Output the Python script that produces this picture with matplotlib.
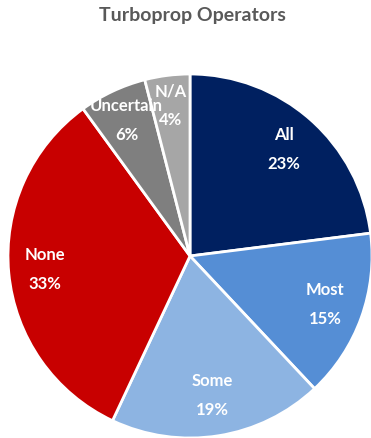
import numpy as np
import matplotlib
matplotlib.use("Agg")
import matplotlib.pyplot as plt

categories = ["All", "Most", "Some", "None", "Uncertain", "N/A"]
values = [23, 15, 19, 33, 6, 4]
colors = ["#002060", "#558ED5", "#8DB4E2", "#C80000", "#7F7F7F", "#A6A6A6"]
title = "Turboprop Operators"

W, H = 371, 438
fig = plt.figure(figsize=(W / 100, H / 100), dpi=100)
ax = fig.add_axes([0, 0, 1, 1])

cx, cy, R = 190, H - 256, 182
wedges, _ = ax.pie(values, colors=colors, startangle=90, counterclock=False,
                   center=(cx, cy), radius=R, frame=True,
                   wedgeprops=dict(edgecolor="white", linewidth=2))
ax.set_xlim(0, W)
ax.set_ylim(0, H)
ax.set_aspect("equal")
ax.axis("off")

dists = [0.78, 0.79, 0.78, 0.80, 0.82, 0.83]
font = dict(family=["Lato", "DejaVu Sans"], fontweight="bold", color="white",
            fontsize=12, ha="center", va="center")
for w, cat, v, d in zip(wedges, categories, values, dists):
    ang = np.deg2rad((w.theta1 + w.theta2) / 2)
    x = cx + d * R * np.cos(ang)
    y = cy + d * R * np.sin(ang)
    ax.text(x, y + 15, cat, **font)
    ax.text(x, y - 14, f"{v}%", **font)

fig.text(192 / W, 1 - 16 / H, title, family=["Lato", "DejaVu Sans"],
         fontweight="bold", color="#595959", fontsize=14, ha="center", va="center")

fig.savefig("out.png", dpi=100)
